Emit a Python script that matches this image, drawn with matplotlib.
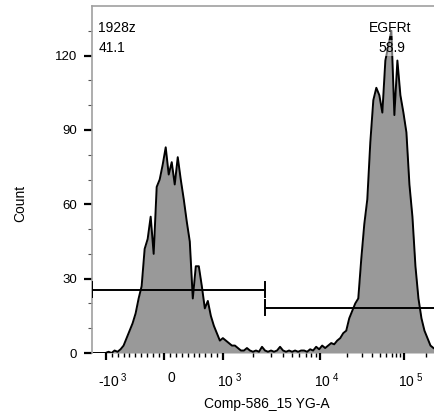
import numpy as np
import matplotlib
matplotlib.use('Agg')
import matplotlib.pyplot as plt
import matplotlib.transforms as mtransforms
from matplotlib.ticker import FixedLocator, FixedFormatter

plt.rcParams['font.family'] = ['Liberation Sans', 'DejaVu Sans']
plt.rcParams['mathtext.fontset'] = 'custom'
plt.rcParams['mathtext.rm'] = 'Liberation Sans'
plt.rcParams['mathtext.it'] = 'Liberation Sans'

# counts per display channel (channels evenly spaced on the biex axis)
counts = [0, 0, 0, 0, 0, 0.5, 0, 1, 0.5, 1.5,
          3, 6, 9, 12, 16, 22, 27, 42, 46, 55,
          40, 67, 70, 76, 83, 72, 77, 68, 79, 70,
          62, 53, 45, 22, 35, 35, 27, 18, 21, 15,
          11, 8, 5, 6, 5, 4, 3, 3, 2, 1,
          1, 2, 1, 0.5, 1, 0.5, 2.5, 1, 0.5, 1,
          0.5, 1, 2.5, 1, 0.5, 1, 0.5, 1, 0.5, 1,
          1, 0.5, 1.5, 1, 2.5, 1.5, 3, 2, 3, 4,
          3.5, 5, 6, 8, 9, 14, 17, 20, 22, 38,
          52, 62, 85, 102, 107, 104, 97, 118, 124, 130,
          96, 118, 104, 97, 89, 68, 55, 35, 22, 14,
          9, 6, 3, 2]

x_min, x_max = -1368, 262144
gate_split = 2600
gate_left_y = 25.5
gate_right_y = 18.2

major_ticks = [-1000, 0, 1000, 10000, 100000]
major_labels = [r'-10$^{\ 3}$', '0', r'10$^{\ 3}$', r'10$^{\ 4}$', r'10$^{\ 5}$']
minor_ticks = (list(range(-900, 0, 100)) + list(range(100, 1000, 100)) +
               list(range(2000, 10000, 1000)) + list(range(20000, 100000, 10000)) +
               [200000])

# biexponential-like display transform
A, B = 1.781, -0.114


def fwd(x):
    x = np.asarray(x, dtype=float)
    ax_ = np.abs(x)
    d = np.log10(np.maximum(ax_, 1000.0)) - 3
    big = np.sign(x) * (1 + A * d + B * d * d)
    return np.where(ax_ <= 1000, x / 1000.0, big)


def inv(u):
    u = np.asarray(u, dtype=float)
    au = np.abs(u)
    r = np.clip(au - 1, 0, 6.9)
    d = (A - np.sqrt(A * A - 4 * abs(B) * r)) / (2 * abs(B))
    big = np.sign(u) * 10 ** (3 + d)
    return np.where(au <= 1, u * 1000.0, big)


fig = plt.figure(figsize=(4.35, 4.19), dpi=100)
ax = fig.add_axes([92 / 435, 66 / 419, 343 / 435, 347 / 419])
ax.set_xscale('function', functions=(fwd, inv))

u_edges = np.linspace(fwd(x_min), fwd(x_max), len(counts) + 1)
centers = inv((u_edges[:-1] + u_edges[1:]) / 2)
ax.fill_between(centers, 0, counts, color='#999999', lw=0, zorder=1)
ax.plot(centers, counts, color='black', lw=1.4, zorder=2)

# gates
ax.plot([x_min, gate_split], [gate_left_y, gate_left_y], color='black', lw=1.4, zorder=3)
ax.plot([gate_split, x_max], [gate_right_y, gate_right_y], color='black', lw=1.4, zorder=3)
for gx, gy in [(x_min, gate_left_y), (gate_split, gate_left_y), (gate_split, gate_right_y)]:
    ax.plot([gx, gx], [gy - 3, gy + 3], color='black', lw=1.4, zorder=3)

ax.set_xlim(x_min, x_max)
ax.set_ylim(0, 140)

ax.xaxis.set_major_locator(FixedLocator(major_ticks))
ax.xaxis.set_major_formatter(FixedFormatter(major_labels))
ax.xaxis.set_minor_locator(FixedLocator(minor_ticks))
ax.tick_params(axis='x', which='major', length=5, width=1.6, labelsize=10, pad=8, colors='black')
ax.tick_params(axis='x', which='minor', length=3, width=1.0)
offset = mtransforms.ScaledTranslation(7 / 100, 0, fig.dpi_scale_trans)
for lab in ax.get_xticklabels():
    lab.set_transform(lab.get_transform() + offset)

ax.set_yticks([0, 30, 60, 90, 120])
ax.set_yticks(range(10, 140, 10), minor=True)
ax.tick_params(axis='y', which='major', length=6, width=1.6, labelsize=9.5, pad=5)
ax.tick_params(axis='y', which='minor', length=3, width=0.8, color='#555555')

for s in ['right', 'bottom']:
    ax.spines[s].set_visible(False)
for s in ['top', 'left']:
    ax.spines[s].set_color('#a0a0a0')
    ax.spines[s].set_linewidth(1.2)

ax.set_xlabel('Comp-586_15 YG-A', fontsize=10)
ax.xaxis.set_label_coords(0.51, -0.128)
ax.set_ylabel('Count', fontsize=10)
ax.yaxis.set_label_coords(-0.19, 0.43)

box = dict(facecolor='white', alpha=0.45, edgecolor='none', pad=0.5)
ax.text(0.018, 0.937, '1928z', transform=ax.transAxes, fontsize=10, va='center', ha='left')
ax.text(0.018, 0.879, '41.1', transform=ax.transAxes, fontsize=10, va='center', ha='left')
ax.text(0.869, 0.937, 'EGFRt', transform=ax.transAxes, fontsize=10, va='center', ha='center', bbox=box, zorder=5)
ax.text(0.875, 0.879, '58.9', transform=ax.transAxes, fontsize=10, va='center', ha='center', bbox=box, zorder=5)

fig.savefig('out.png', dpi=100)
